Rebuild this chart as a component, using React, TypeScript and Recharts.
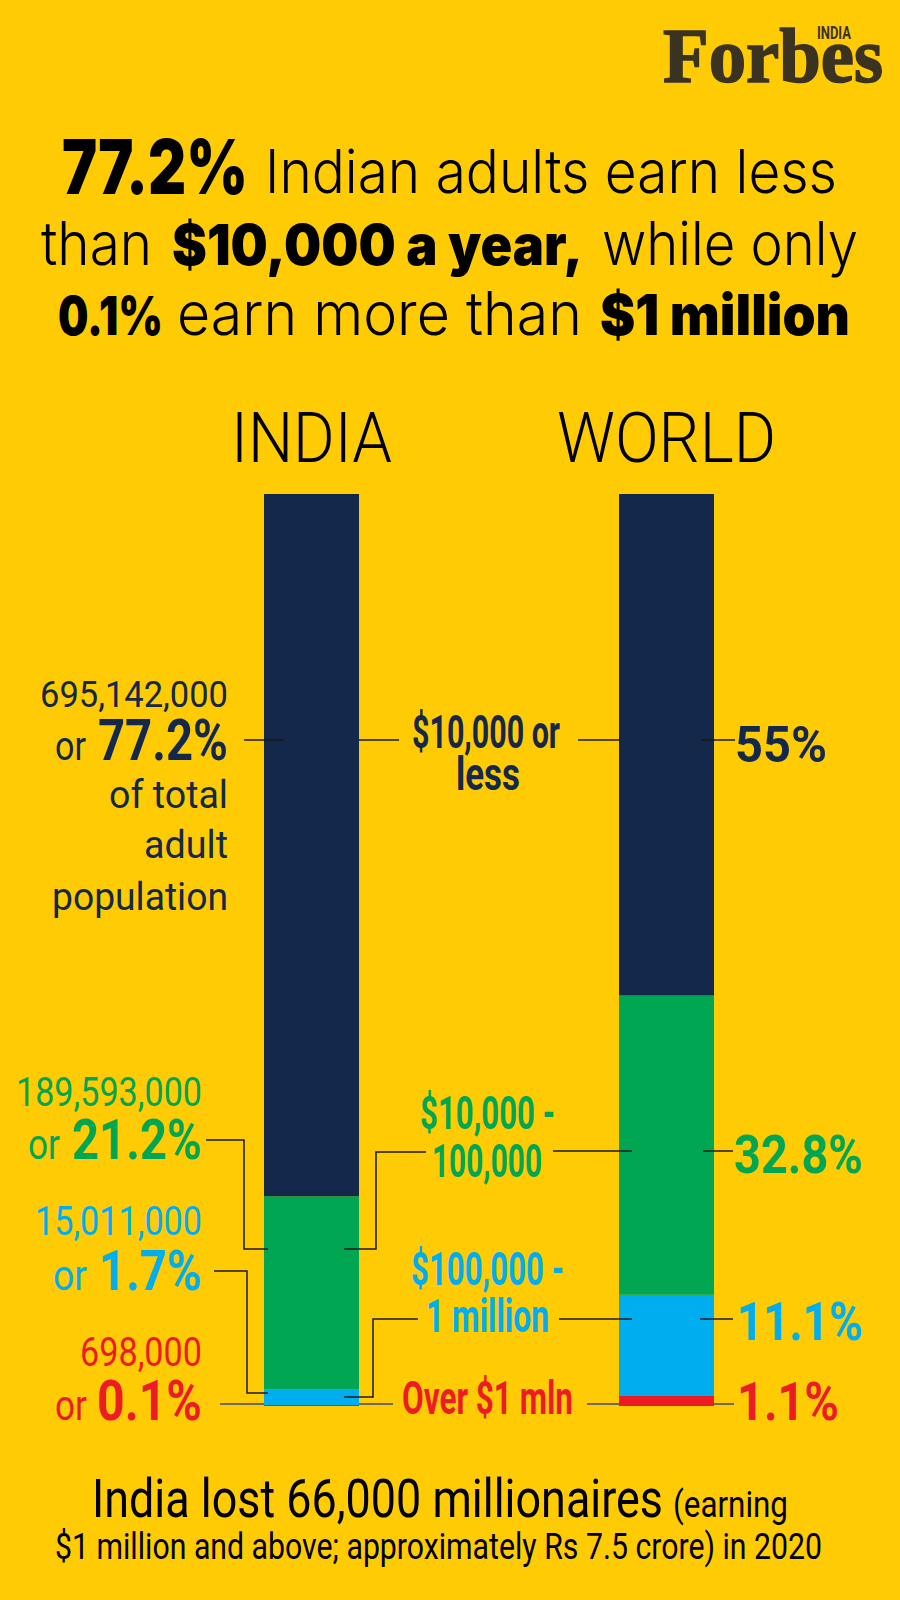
import React from 'react';
import { BarChart, Bar, XAxis, YAxis } from 'recharts';

// income bands, share of adults (%) — stacked bottom-up: over $1m, $100k-1m, $10k-100k, <= $10k
const regions = ['INDIA', 'WORLD'];
const upTo10k = [77.2, 55];
const from10kTo100k = [21.2, 32.8];
const from100kTo1m = [1.7, 11.1];
const over1m = [0.1, 1.1];

// India adult counts per band
const indiaCounts = ['695,142,000', '189,593,000', '15,011,000', '698,000'];
const bandNames = [['$10,000 or', 'less'], ['$10,000 -', '100,000'], ['$100,000 -', '1 million'], ['Over $1 mln']];

const chartData = regions.map((region, i) => ({
  region,
  over1m: over1m[i],
  upper: from100kTo1m[i],
  middle: from10kTo100k[i],
  lower: upTo10k[i],
}));

const BG = '#FFCB05';
const NAVY = '#13284A';
const GREEN = '#00A651';
const BLUE = '#00AEEF';
const RED = '#ED1C24';
const COND = 'Roboto, "Noto Sans", sans-serif';
const GEO = 'Inter, Lato, sans-serif';

type FitProps = {
  x: number; y: number; w: number; size: number;
  weight?: number; fill?: string; family?: string; stroke?: number; children: string;
};

// text squeezed/stretched to the measured width
const Fit = ({ x, y, w, size, weight = 400, fill = '#000', family = COND, stroke = 0, children }: FitProps) => (
  <text x={x} y={y} textLength={w} lengthAdjust="spacingAndGlyphs"
    fontSize={size} fontWeight={weight} fill={fill} fontFamily={family}
    stroke={stroke ? fill : undefined} strokeWidth={stroke || undefined}>
    {children}
  </text>
);

const headerWidth: Record<string, number> = { INDIA: 161, WORLD: 219 };

const HeaderTick = (props: any) => {
  const { x, payload } = props;
  const w = headerWidth[payload.value];
  return (
    <text x={x - w / 2} y={462} textLength={w} lengthAdjust="spacingAndGlyphs"
      fontSize={70} fontWeight={300} fontFamily={COND} fill="#000">
      {payload.value}
    </text>
  );
};

const pct = (v: number) => `${v}%`;

const App: React.FC = () => {
  const line = { stroke: '#1a1a1a', strokeWidth: 1.5, fill: 'none' };
  const grey = { stroke: '#6f6a55', strokeWidth: 2, fill: 'none' };

  return (
    <div style={{ position: 'absolute', left: 0, top: 0, width: 900, height: 1600, background: BG, overflow: 'hidden' }}>
      <div style={{ position: 'absolute', left: 0, top: 0 }}>
        <BarChart width={900} height={1600} data={chartData}
          margin={{ top: 434, right: 56, bottom: 194, left: 134 }}>
          <XAxis dataKey="region" orientation="top" axisLine={false} tickLine={false}
            height={60} tick={<HeaderTick />} interval={0} />
          <YAxis hide domain={[0, 100]} allowDataOverflow />
          <Bar dataKey="over1m" stackId="a" fill={RED} barSize={95} isAnimationActive={false} />
          <Bar dataKey="upper" stackId="a" fill={BLUE} barSize={95} isAnimationActive={false} />
          <Bar dataKey="middle" stackId="a" fill={GREEN} barSize={95} isAnimationActive={false} />
          <Bar dataKey="lower" stackId="a" fill={NAVY} barSize={95} isAnimationActive={false} />
        </BarChart>
      </div>

      <svg width={900} height={1600} style={{ position: 'absolute', left: 0, top: 0, pointerEvents: 'none' }}>
        {/* logo */}
        <Fit x={663} y={82} w={220} size={78} weight={700} fill="#3B3322" family='"Liberation Serif", serif' stroke={1.6}>Forbes</Fit>
        <Fit x={817} y={39} w={34} size={18} weight={700} fill="#3B3322">INDIA</Fit>

        {/* headline */}
        <Fit x={62} y={194} w={186} size={75} weight={900} family={GEO}>{pct(upTo10k[0])}</Fit>
        <Fit x={265} y={193} w={572} size={60} weight={300} family={GEO}>Indian adults earn less</Fit>
        <Fit x={41} y={265} w={111} size={60} weight={300} family={GEO}>than</Fit>
        <Fit x={172} y={265} w={411} size={56} weight={900} family={GEO}>$10,000 a year,</Fit>
        <Fit x={602} y={265} w={256} size={60} weight={300} family={GEO}>while only</Fit>
        <Fit x={58} y={335} w={105} size={53} weight={900} family={GEO}>{pct(over1m[0])}</Fit>
        <Fit x={177} y={335} w={405} size={60} weight={300} family={GEO}>earn more than</Fit>
        <Fit x={600} y={335} w={250} size={56} weight={900} family={GEO}>$1 million</Fit>

        {/* India, left side */}
        <Fit x={40} y={707} w={188} size={36} fill={NAVY}>{indiaCounts[0]}</Fit>
        <Fit x={55} y={760} w={31} size={40} fill={NAVY}>or</Fit>
        <Fit x={98} y={760} w={130} size={58} weight={700} fill={NAVY}>{pct(upTo10k[0])}</Fit>
        <Fit x={109} y={808} w={119} size={38} fill={NAVY}>of total</Fit>
        <Fit x={144} y={858} w={84} size={38} fill={NAVY}>adult</Fit>
        <Fit x={52} y={910} w={176} size={38} fill={NAVY}>population</Fit>

        <Fit x={16} y={1106} w={186} size={40} fill={GREEN}>{indiaCounts[1]}</Fit>
        <Fit x={28} y={1159} w={32} size={42} fill={GREEN}>or</Fit>
        <Fit x={72} y={1159} w={130} size={56} weight={700} fill={GREEN}>{pct(from10kTo100k[0])}</Fit>

        <Fit x={35} y={1235} w={167} size={40} fill={BLUE}>{indiaCounts[2]}</Fit>
        <Fit x={53} y={1290} w={34} size={42} fill={BLUE}>or</Fit>
        <Fit x={99} y={1290} w={103} size={56} weight={700} fill={BLUE}>{pct(from100kTo1m[0])}</Fit>

        <Fit x={80} y={1366} w={122} size={40} fill={RED}>{indiaCounts[3]}</Fit>
        <Fit x={55} y={1420} w={32} size={42} fill={RED}>or</Fit>
        <Fit x={97} y={1420} w={105} size={56} weight={700} fill={RED}>{pct(over1m[0])}</Fit>

        {/* band names, middle */}
        <Fit x={412} y={748} w={148} size={46} weight={700} fill={NAVY}>{bandNames[0][0]}</Fit>
        <Fit x={456} y={790} w={64} size={46} weight={700} fill={NAVY}>{bandNames[0][1]}</Fit>
        <Fit x={420} y={1129} w={135} size={46} weight={700} fill={GREEN}>{bandNames[1][0]}</Fit>
        <Fit x={432} y={1177} w={110} size={46} weight={700} fill={GREEN}>{bandNames[1][1]}</Fit>
        <Fit x={411} y={1285} w={153} size={46} weight={700} fill={BLUE}>{bandNames[2][0]}</Fit>
        <Fit x={426} y={1332} w={123} size={46} weight={700} fill={BLUE}>{bandNames[2][1]}</Fit>
        <Fit x={402} y={1414} w={171} size={46} weight={700} fill={RED}>{bandNames[3][0]}</Fit>

        {/* World, right side */}
        <Fit x={735} y={762} w={92} size={50} weight={700} fill={NAVY}>{pct(upTo10k[1])}</Fit>
        <Fit x={734} y={1173} w={129} size={54} weight={700} fill={GREEN}>{pct(from10kTo100k[1])}</Fit>
        <Fit x={737} y={1340} w={126} size={54} weight={700} fill={BLUE}>{pct(from100kTo1m[1])}</Fit>
        <Fit x={737} y={1420} w={102} size={54} weight={700} fill={RED}>{pct(over1m[1])}</Fit>

        {/* leader lines */}
        <polyline points="244,740 284,740" {...line} />
        <polyline points="359,740 399,740" {...line} />
        <polyline points="578,740 621,740" {...line} />
        <polyline points="701,740 735,740" {...line} />

        <polyline points="206,1140 244,1140 244,1249 268,1249" {...line} />
        <polyline points="344,1249 376,1249 376,1152 426,1152" {...line} />
        <polyline points="553,1151 632,1151" {...line} />
        <polyline points="703,1151 733,1151" {...line} />

        <polyline points="214,1271 247,1271 247,1393 268,1393" {...line} />
        <polyline points="344,1397 373,1397 373,1319 418,1319" {...line} />
        <polyline points="559,1319 632,1319" {...line} />
        <polyline points="700,1319 733,1319" {...line} />

        <polyline points="220,1404 264,1404" {...grey} />
        <polyline points="359,1404 393,1404" {...grey} />
        <polyline points="587,1404 619,1404" {...grey} />
        <polyline points="714,1404 734,1404" {...grey} />

        {/* footnote */}
        <Fit x={92} y={1517} w={571} size={53}>India lost 66,000 millionaires</Fit>
        <Fit x={673} y={1517} w={115} size={37}>(earning</Fit>
        <Fit x={55} y={1559} w={767} size={37}>$1 million and above; approximately Rs 7.5 crore) in 2020</Fit>
      </svg>
    </div>
  );
};

export default App;
